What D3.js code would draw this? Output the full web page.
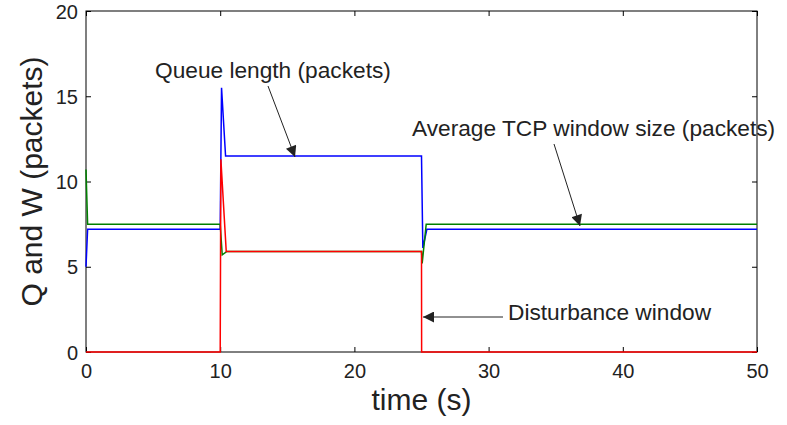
<!DOCTYPE html>
<html>
<head>
<meta charset="utf-8">
<script src="https://d3js.org/d3.v7.min.js"></script>
<style>
  body { margin: 0; background: #fff; }
  text { font-family: "Liberation Sans", Arial, sans-serif; fill: #222; }
</style>
</head>
<body>
<svg id="chart" width="787" height="425"></svg>
<script>
// queue length (blue)
const qTime = [0, 0.12, 10, 10.1, 10.4, 25, 25.1, 25.4, 50];
const qVals = [5.0, 7.2, 7.2, 15.5, 11.5, 11.5, 6.1, 7.2, 7.2];

// average TCP window (green)
const wTime = [0, 0.12, 10, 10.15, 10.5, 25, 25.05, 25.35, 50];
const wVals = [10.7, 7.5, 7.5, 5.7, 5.9, 5.9, 5.2, 7.5, 7.5];

// disturbance window (red)
const dTime = [0, 10, 10.05, 10.45, 25, 25.01, 50];
const dVals = [0, 0, 11.3, 5.9, 5.9, 0, 0];

const xTicks = [0, 10, 20, 30, 40, 50];
const yTicks = [0, 5, 10, 15, 20];

const svg = d3.select("#chart");
const margin = {left: 86, right: 30, top: 11, bottom: 73};
const width = 787 - margin.left - margin.right;
const height = 425 - margin.top - margin.bottom;

const x = d3.scaleLinear().domain([0, 50]).range([margin.left, margin.left + width]);
const y = d3.scaleLinear().domain([0, 20]).range([margin.top + height, margin.top]);

// axes box
const g = svg.append("g");
g.append("rect")
  .attr("x", x(0)).attr("y", y(20))
  .attr("width", x(50) - x(0)).attr("height", y(0) - y(20))
  .attr("fill", "none").attr("stroke", "#000").attr("stroke-width", 1);

const axB = g.append("g").attr("transform", `translate(0,${y(0)})`)
  .call(d3.axisBottom(x).tickValues(xTicks).tickSizeInner(-5).tickSizeOuter(0).tickPadding(8));
const axT = g.append("g").attr("transform", `translate(0,${y(20)})`)
  .call(d3.axisTop(x).tickValues(xTicks).tickSizeInner(-5).tickSizeOuter(0).tickFormat(""));
const axL = g.append("g").attr("transform", `translate(${x(0)},0)`)
  .call(d3.axisLeft(y).tickValues(yTicks).tickSizeInner(-5).tickSizeOuter(0).tickPadding(8));
const axR = g.append("g").attr("transform", `translate(${x(50)},0)`)
  .call(d3.axisRight(y).tickValues(yTicks).tickSizeInner(-5).tickSizeOuter(0).tickFormat(""));

[axB, axT, axL, axR].forEach(a => {
  a.select(".domain").remove();
  a.selectAll("line").attr("stroke", "#000");
  a.selectAll("text").style("font-size", "20px").attr("fill", "#000");
});
axB.selectAll("text").attr("dy", "0.9em");
axL.selectAll("text").attr("dy", "0.35em");

// axis labels
svg.append("text")
  .attr("x", (x(0) + x(50)) / 2).attr("y", 410)
  .attr("text-anchor", "middle").style("font-size", "30px")
  .text("time (s)");
svg.append("text")
  .attr("transform", `translate(42,${(y(0) + y(20)) / 2}) rotate(-90)`)
  .attr("text-anchor", "middle").style("font-size", "30px")
  .text("Q and W (packets)");

// series
const line = d3.line().x(d => x(d[0])).y(d => y(d[1]));
const series = [
  {t: qTime, v: qVals, c: "#0000ff"},
  {t: wTime, v: wVals, c: "#008000"},
  {t: dTime, v: dVals, c: "#ff0000"}
];
series.forEach(s => {
  svg.append("path")
    .datum(s.t.map((t, i) => [t, s.v[i]]))
    .attr("d", line)
    .attr("fill", "none")
    .attr("stroke", s.c)
    .attr("stroke-width", 1.5);
});

// annotations
svg.append("defs").append("marker")
  .attr("id", "head").attr("viewBox", "0 0 10 10")
  .attr("refX", 10).attr("refY", 5)
  .attr("markerWidth", 14).attr("markerHeight", 11)
  .attr("markerUnits", "userSpaceOnUse")
  .attr("orient", "auto")
  .append("path").attr("d", "M0,0 L10,5 L0,10 Z").attr("fill", "#222");

const notes = [
  {text: "Queue length (packets)", tx: 155, ty: 78, x1: 268, y1: 86, x2: 295, y2: 157},
  {text: "Average TCP window size (packets)", tx: 412, ty: 136, x1: 554, y1: 144, x2: 580, y2: 226},
  {text: "Disturbance window", tx: 508, ty: 320, x1: 503, y1: 317, x2: 423, y2: 317}
];
notes.forEach(n => {
  svg.append("text").attr("x", n.tx).attr("y", n.ty)
    .style("font-size", "22.7px").text(n.text);
  svg.append("line")
    .attr("x1", n.x1).attr("y1", n.y1).attr("x2", n.x2).attr("y2", n.y2)
    .attr("stroke", "#222").attr("stroke-width", 1)
    .attr("marker-end", "url(#head)");
});
</script>
</body>
</html>
